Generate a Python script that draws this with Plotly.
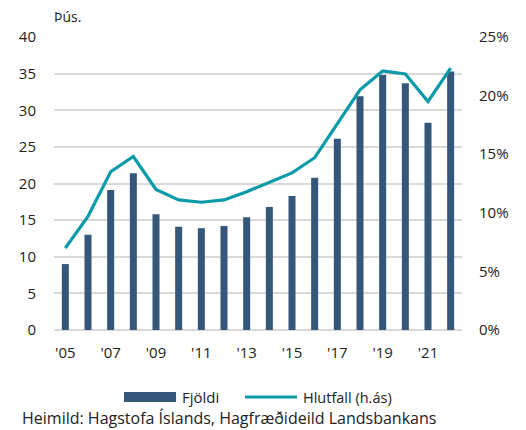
import plotly.graph_objects as go

# data
years = list(range(2005, 2023))
fjoldi = [9.0, 13.0, 19.1, 21.4, 15.8, 14.1, 13.9, 14.2, 15.4, 16.8,
          18.3, 20.8, 26.1, 31.9, 34.8, 33.7, 28.3, 35.3]
hlutfall = [7.0, 9.7, 13.5, 14.8, 12.0, 11.1, 10.9, 11.1, 11.8, 12.6,
            13.4, 14.7, 17.6, 20.5, 22.1, 21.85, 19.5, 22.35]
tick_years = [2005, 2007, 2009, 2011, 2013, 2015, 2017, 2019, 2021]
tick_text = ["'05", "'07", "'09", "'11", "'13", "'15", "'17", "'19", "'21"]

FONT = "Open Sans"
BAR_COLOR = "#34577a"
LINE_COLOR = "#0b9ba8"

W, H = 526, 430
ML, MR, MT, MB = 54, 64, 37, 100


# pixel position -> paper coords (for legend / notes only)
def px(x):
    return (x - ML) / (W - ML - MR)


def py(y):
    return (H - MB - y) / (H - MT - MB)


fig = go.Figure()
fig.add_trace(go.Bar(x=years, y=fjoldi, name="Fjöldi", marker_color=BAR_COLOR,
                     marker_line_width=0))
fig.add_trace(go.Scatter(x=years, y=hlutfall, name="Hlutfall (h.ás)", mode="lines",
                         line=dict(color=LINE_COLOR, width=3.2), yaxis="y2"))

fig.update_layout(
    width=W, height=H,
    margin=dict(l=ML, r=MR, t=MT, b=MB),
    plot_bgcolor="white", paper_bgcolor="white",
    font=dict(family=FONT, size=14, color="#222"),
    bargap=0.69,
    showlegend=False,
    xaxis=dict(tickmode="array", tickvals=tick_years, ticktext=tick_text,
               range=[2004.5, 2022.5], showgrid=False, ticks="",
               tickfont=dict(size=15), zeroline=False, ticklabelstandoff=12),
    yaxis=dict(range=[0, 40], dtick=5, gridcolor="#d9d9d9", gridwidth=1.5,
               zeroline=True, zerolinecolor="#d9d9d9", zerolinewidth=1.5,
               tickfont=dict(size=15), ticklabelstandoff=17),
    yaxis2=dict(range=[0, 25], dtick=5, overlaying="y", side="right",
                ticksuffix="%", showgrid=False, zeroline=False,
                tickfont=dict(size=15), ticklabelstandoff=16),
)

# legend drawn by hand so the bar key is a wide block like the original
fig.add_shape(type="rect", xref="paper", yref="paper",
              x0=px(124), x1=px(176), y0=py(402), y1=py(392),
              fillcolor=BAR_COLOR, line_width=0)
fig.add_shape(type="line", xref="paper", yref="paper",
              x0=px(245), x1=px(297), y0=py(397), y1=py(397),
              line=dict(color=LINE_COLOR, width=3.2))
fig.add_annotation(text="Fjöldi", xref="paper", yref="paper", x=px(180), y=py(397),
                   xanchor="left", yanchor="middle", showarrow=False, font=dict(size=15))
fig.add_annotation(text="Hlutfall (h.ás)", xref="paper", yref="paper", x=px(301), y=py(397),
                   xanchor="left", yanchor="middle", showarrow=False, font=dict(size=14.5))

fig.add_annotation(text="Þús.", xref="paper", yref="paper", x=px(52), y=py(16),
                   xanchor="left", yanchor="middle", showarrow=False, font=dict(size=14))
fig.add_annotation(text="Heimild: Hagstofa Íslands, Hagfræðideild Landsbankans",
                   xref="paper", yref="paper", x=px(20), y=py(418),
                   xanchor="left", yanchor="middle", showarrow=False, font=dict(size=16))

fig.write_html("out.html", config={"displayModeBar": False},
               post_script="document.body.style.margin='0';")
